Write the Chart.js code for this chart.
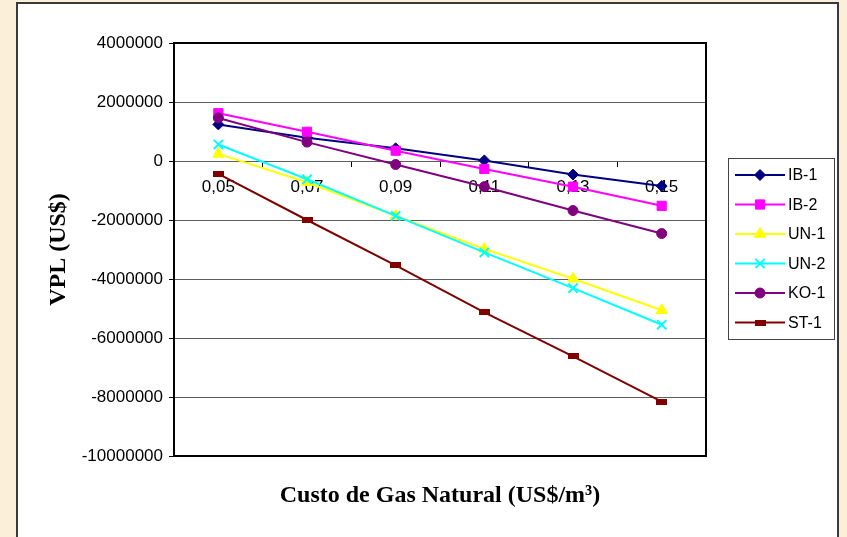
<!DOCTYPE html>
<html>
<head>
<meta charset="utf-8">
<script src="https://cdn.jsdelivr.net/npm/chart.js@4/dist/chart.umd.min.js"></script>
<style>
  html, body { margin: 0; padding: 0; width: 847px; height: 537px; overflow: hidden; background: #fcefd9; }
  #frame { position: absolute; left: 16px; top: 2px; width: 823px; height: 560px; background: #fff; border: 2px solid #3a3a3a; box-sizing: border-box; }
  #wrap { position: absolute; left: 0; top: 0; width: 847px; height: 537px; }
</style>
</head>
<body>
<div id="frame"></div>
<div id="wrap"><canvas id="c" width="847" height="537"></canvas></div>
<script>
// Gas price categories (US$/m³) and net present value per project (US$)
const categories = ['0,05', '0,07', '0,09', '0,11', '0,13', '0,15'];
const seriesNames = ['IB-1', 'IB-2', 'UN-1', 'UN-2', 'KO-1', 'ST-1'];
const ib1 = [1240000, 790000, 430000, 20000, -460000, -850000];
const ib2 = [1620000, 990000, 350000, -270000, -870000, -1520000];
const un1 = [240000, -720000, -1860000, -2980000, -3990000, -5060000];
const un2 = [560000, -620000, -1860000, -3100000, -4310000, -5550000];
const ko1 = [1460000, 640000, -120000, -870000, -1680000, -2460000];
const st1 = [-440000, -2000000, -3540000, -5130000, -6620000, -8160000];
const yMin = -10000000, yMax = 4000000, yStep = 2000000;
const xTitle = 'Custo de Gas Natural (US$/m³)';
const yTitle = 'VPL (US$)';

// flat bar marker for ST-1
const barMark = document.createElement('canvas');
barMark.width = 11; barMark.height = 6;
(function () { const g = barMark.getContext('2d'); g.fillStyle = '#800000'; g.fillRect(0, 0, 11, 6); })();

const styles = [
  { color: '#000080', point: 'rectRot', r: 5.5 },
  { color: '#ff00ff', point: 'rect', r: 6.5 },
  { color: '#ffff00', point: 'triangle', r: 6.5 },
  { color: '#00ffff', point: 'crossRot', r: 6.5 },
  { color: '#800080', point: 'circle', r: 5 },
  { color: '#800000', point: barMark, r: 5 }
];
const values = [ib1, ib2, un1, un2, ko1, st1];

const datasets = values.map((v, i) => ({
  label: seriesNames[i],
  data: v,
  borderColor: styles[i].color,
  backgroundColor: styles[i].color,
  pointBackgroundColor: styles[i].color,
  pointBorderColor: styles[i].color,
  pointStyle: styles[i].point,
  pointRadius: styles[i].r,
  pointBorderWidth: styles[i].point === 'crossRot' ? 2 : 1,
  borderWidth: 2,
  tension: 0,
  order: values.length - i
}));

const plotFrame = {
  id: 'plotFrame',
  afterDraw(chart) {
    const { ctx, chartArea: a } = chart;
    ctx.save();
    ctx.strokeStyle = '#000';
    ctx.lineWidth = 2;
    ctx.strokeRect(a.left, a.top, a.right - a.left, a.bottom - a.top);
    ctx.restore();
  }
};

const sideLegend = {
  id: 'sideLegend',
  afterDraw(chart) {
    const ctx = chart.ctx;
    const bx = 728, by = 158, bw = 107, bh = 182;
    ctx.save();
    ctx.fillStyle = '#fff';
    ctx.fillRect(bx, by, bw, bh);
    ctx.strokeStyle = '#444';
    ctx.lineWidth = 1;
    ctx.strokeRect(bx + 0.5, by + 0.5, bw - 1, bh - 1);
    chart.data.datasets.forEach((ds, i) => {
      const y = by + 17 + i * 29.5;
      ctx.strokeStyle = ds.borderColor;
      ctx.lineWidth = 2;
      ctx.beginPath();
      ctx.moveTo(bx + 7, y);
      ctx.lineTo(bx + 57, y);
      ctx.stroke();
      ctx.fillStyle = ds.pointBackgroundColor;
      ctx.strokeStyle = ds.pointBorderColor;
      ctx.lineWidth = ds.pointBorderWidth;
      Chart.helpers.drawPoint(ctx, { pointStyle: ds.pointStyle, radius: ds.pointRadius, borderWidth: ds.pointBorderWidth, rotation: 0 }, bx + 32, y);
      ctx.fillStyle = '#000';
      ctx.font = '16px "Liberation Sans", Arial, sans-serif';
      ctx.textBaseline = 'middle';
      ctx.textAlign = 'left';
      ctx.fillText(ds.label, bx + 60, y + 1);
    });
    ctx.restore();
  }
};

new Chart(document.getElementById('c'), {
  type: 'line',
  data: { labels: categories, datasets },
  plugins: [plotFrame, sideLegend],
  options: {
    responsive: false,
    animation: false,
    layout: { padding: { left: 0, top: 43, right: 141, bottom: 0 } },
    plugins: { legend: { display: false }, tooltip: { enabled: false } },
    scales: {
      x: {
        type: 'category',
        position: { y: 0 },
        offset: true,
        grid: { offset: true, drawOnChartArea: false, drawTicks: true, tickLength: 5, tickColor: '#000' },
        border: { display: true, color: '#5e5e5e', width: 1 },
        ticks: { color: '#000', padding: 11, maxRotation: 0, autoSkip: false, font: { family: '"Liberation Sans", Arial, sans-serif', size: 17 } }
      },
      x2: {
        type: 'category',
        position: 'bottom',
        offset: true,
        grid: { display: false },
        border: { display: false },
        ticks: { display: false },
        title: { display: true, text: xTitle, color: '#000', padding: { top: 0, bottom: 27 }, font: { family: '"Liberation Serif", "Times New Roman", serif', size: 24, weight: 'bold' } },
        afterFit(s) { s.height = 81; }
      },
      y: {
        min: yMin, max: yMax,
        ticks: { stepSize: yStep, color: '#000', padding: 6, font: { family: '"Liberation Sans", Arial, sans-serif', size: 17 }, callback: v => String(v) },
        grid: { color: '#5e5e5e', lineWidth: 1, tickLength: 5, tickColor: '#000' },
        border: { display: false },
        title: { display: true, text: yTitle, color: '#000', padding: { top: 44, bottom: 0 }, font: { family: '"Liberation Serif", "Times New Roman", serif', size: 24, weight: 'bold' } },
        afterFit(s) { s.width = 174; }
      }
    }
  }
});
</script>
</body>
</html>
